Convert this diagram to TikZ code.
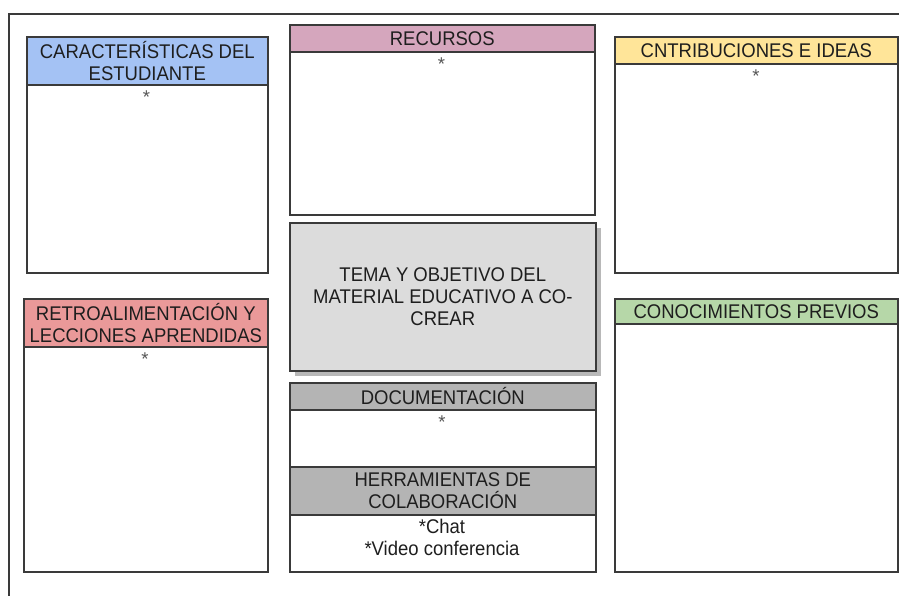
\documentclass[tikz,border=0pt]{standalone}
\usepackage{fontspec}
\usepackage{graphicx}
\setmainfont{Liberation Sans}
\usetikzlibrary{shadows}
\definecolor{bluehd}{HTML}{A4C2F4}
\definecolor{pinkhd}{HTML}{D5A6BD}
\definecolor{yellowhd}{HTML}{FFE599}
\definecolor{redhd}{HTML}{EA9999}
\definecolor{greenhd}{HTML}{B6D7A8}
\definecolor{grayhd}{HTML}{B4B4B4}
\definecolor{temafill}{HTML}{DCDCDC}
\definecolor{shadowc}{HTML}{B8B8B8}
\definecolor{edge}{HTML}{3A3A3A}
\definecolor{ink}{HTML}{1E1E1E}
\definecolor{starc}{HTML}{555555}
\newcommand{\vt}[1]{\scalebox{1}[1.07]{#1}}
\begin{document}
\begin{tikzpicture}[x=1pt,y=-1pt,
  box/.style={draw=edge, line width=1.6pt, rectangle, anchor=north west, inner sep=0pt,
    font=\fontsize{18.5}{22}\selectfont, text=ink, align=center},
  star/.style={anchor=base, inner sep=0pt, font=\fontsize{18.5}{22}\selectfont, text=starc},
  txt/.style={inner sep=0pt, font=\fontsize{18.5}{22}\selectfont, text=ink, align=center},
  frame/.style={draw=edge, line width=1.6pt}]
\useasboundingbox (0,0) rectangle (899,595);
% outer frame
\coordinate (fbl) at (9,596);
\coordinate (ftl) at (9,14);
\coordinate (ftr) at (900,14);
\draw[frame] (fbl) -- (ftl) -- (ftr);
% Caracteristicas
\node[box, fill=bluehd, minimum width=241pt, minimum height=48pt] (charH) at (26,36) {\vt{CARACTERÍSTICAS DEL}\\\vt{ESTUDIANTE}};
\node[box, fill=white, minimum width=241pt, minimum height=188pt] (charB) at (26,84) {};
\node[star] (charS) at (146.5,103.5) {*};
% Recursos
\node[box, fill=pinkhd, minimum width=305pt, minimum height=27pt] (recH) at (289,24) {\vt{RECURSOS}};
\node[box, fill=white, minimum width=305pt, minimum height=163pt] (recB) at (289,51) {};
\node[star] (recS) at (441.5,70.5) {*};
% Cntribuciones
\node[box, fill=yellowhd, minimum width=283pt, minimum height=27pt] (conH) at (614,36) {\vt{CNTRIBUCIONES E IDEAS}};
\node[box, fill=white, minimum width=283pt, minimum height=209pt] (conB) at (614,63) {};
\node[star] (conS) at (756,82.5) {*};
% Retroalimentacion
\node[box, fill=redhd, minimum width=244pt, minimum height=48pt] (retH) at (23,298) {\vt{RETROALIMENTACIÓN Y}\\\vt{LECCIONES APRENDIDAS}};
\node[box, fill=white, minimum width=244pt, minimum height=225pt] (retB) at (23,346) {};
\node[star] (retS) at (145,365.5) {*};
% Tema
\node[box, fill=temafill, minimum width=306pt, minimum height=148pt,
  drop shadow={fill=shadowc, opacity=1, shadow xshift=5pt, shadow yshift=-5pt}] (tema) at (289,222) {};
\node[txt] (temaT) at (tema.center) {\vt{TEMA Y OBJETIVO DEL}\\\vt{MATERIAL EDUCATIVO A CO-}\\\vt{CREAR}};
% Documentacion
\node[box, fill=grayhd, minimum width=306pt, minimum height=27pt] (docH) at (289,382) {\vt{DOCUMENTACIÓN}};
\node[box, fill=white, minimum width=306pt, minimum height=57pt] (docB) at (289,409) {};
\node[star] (docS) at (442,428.5) {*};
% Herramientas
\node[box, fill=grayhd, minimum width=306pt, minimum height=48pt] (herH) at (289,466) {\vt{HERRAMIENTAS DE}\\\vt{COLABORACIÓN}};
\node[box, fill=white, minimum width=306pt, minimum height=57pt] (herB) at (289,514) {};
\node[txt] (herT) at (442,537) {\vt{*Chat}\\\vt{*Video conferencia}};
% Conocimientos
\node[box, fill=greenhd, minimum width=283pt, minimum height=25pt] (cnoH) at (614,298) {\vt{CONOCIMIENTOS PREVIOS}};
\node[box, fill=white, minimum width=283pt, minimum height=248pt] (cnoB) at (614,323) {};
\end{tikzpicture}
\end{document}
